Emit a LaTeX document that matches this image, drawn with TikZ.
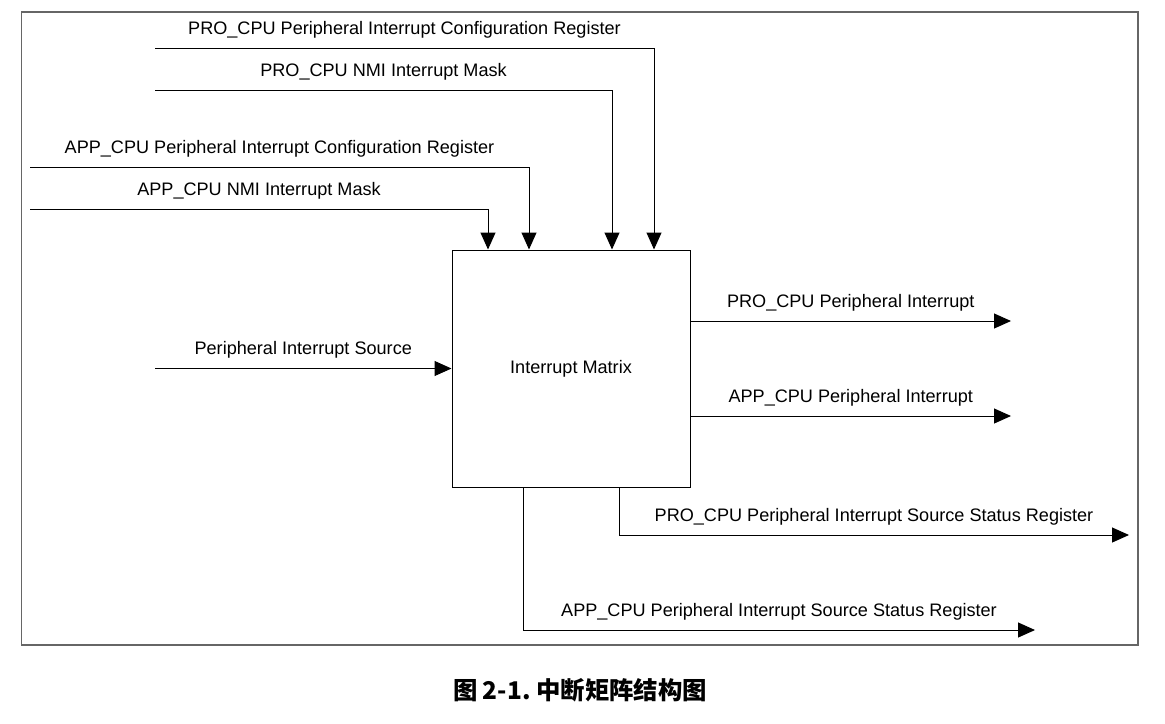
\documentclass[tikz,border=0pt]{standalone}
\usepackage{fontspec}
\setmainfont{Liberation Sans}
\newfontfamily\cjk{Noto Sans CJK SC}
\usetikzlibrary{arrows.meta,positioning}
\tikzset{
	sig/.style={line width=0.5pt, -{Triangle[width=7.5pt,length=8.5pt]}},
	lbl/.style={above=4.8pt, inner sep=0pt, font=\fontsize{9.05}{11}\selectfont},
}
\begin{document}
\begin{tikzpicture}[x=0.5pt,y=-0.5pt]
	\useasboundingbox (0,0) rectangle (1165,723);
	\draw[gray!80!black, line width=0.6pt] (21.5,12) rectangle (1138,645);
	\node[draw, line width=0.5pt, minimum width=119pt, minimum height=118.5pt, inner sep=0pt, font=\fontsize{9.05}{11}\selectfont] (mtx) at (571,368.5) {Interrupt Matrix};
	\coordinate (procfg) at (155,48);
	\coordinate (pronmi) at (155,90);
	\coordinate (appcfg) at (30,167);
	\coordinate (appnmi) at (30,209);
	\coordinate (src) at (155,368.5);
	\coordinate (proint) at (1011,321);
	\coordinate (appint) at (1011,416);
	\coordinate (prosts) at (1129,535);
	\coordinate (appsts) at (1035,630);
	\draw[sig] (procfg) -| node[lbl,pos=0.25] {PRO\_CPU Peripheral Interrupt Configuration Register} (mtx.north -| 654,0);
	\draw[sig] (pronmi) -| node[lbl,pos=0.25] {PRO\_CPU NMI Interrupt Mask} (mtx.north -| 612,0);
	\draw[sig] (appcfg) -| node[lbl,pos=0.25] {APP\_CPU Peripheral Interrupt Configuration Register} (mtx.north -| 529,0);
	\draw[sig] (appnmi) -| node[lbl,pos=0.25] {APP\_CPU NMI Interrupt Mask} (mtx.north -| 488,0);
	\draw[sig] (src) -- node[lbl] {Peripheral Interrupt Source} (mtx.west);
	\draw[sig] (mtx.east |- proint) -- node[lbl] {PRO\_CPU Peripheral Interrupt} (proint);
	\draw[sig] (mtx.east |- appint) -- node[lbl] {APP\_CPU Peripheral Interrupt} (appint);
	\draw[sig] (mtx.south -| 619,0) |- node[lbl,pos=0.75] {PRO\_CPU Peripheral Interrupt Source Status Register} (prosts);
	\draw[sig] (mtx.south -| 523,0) |- node[lbl,pos=0.75] {APP\_CPU Peripheral Interrupt Source Status Register} (appsts);
	\node[font=\cjk\bfseries\fontsize{12.2}{14}\selectfont] (cap) at (580,690) {图 2-1.\ 中断矩阵结构图};
\end{tikzpicture}
\end{document}
